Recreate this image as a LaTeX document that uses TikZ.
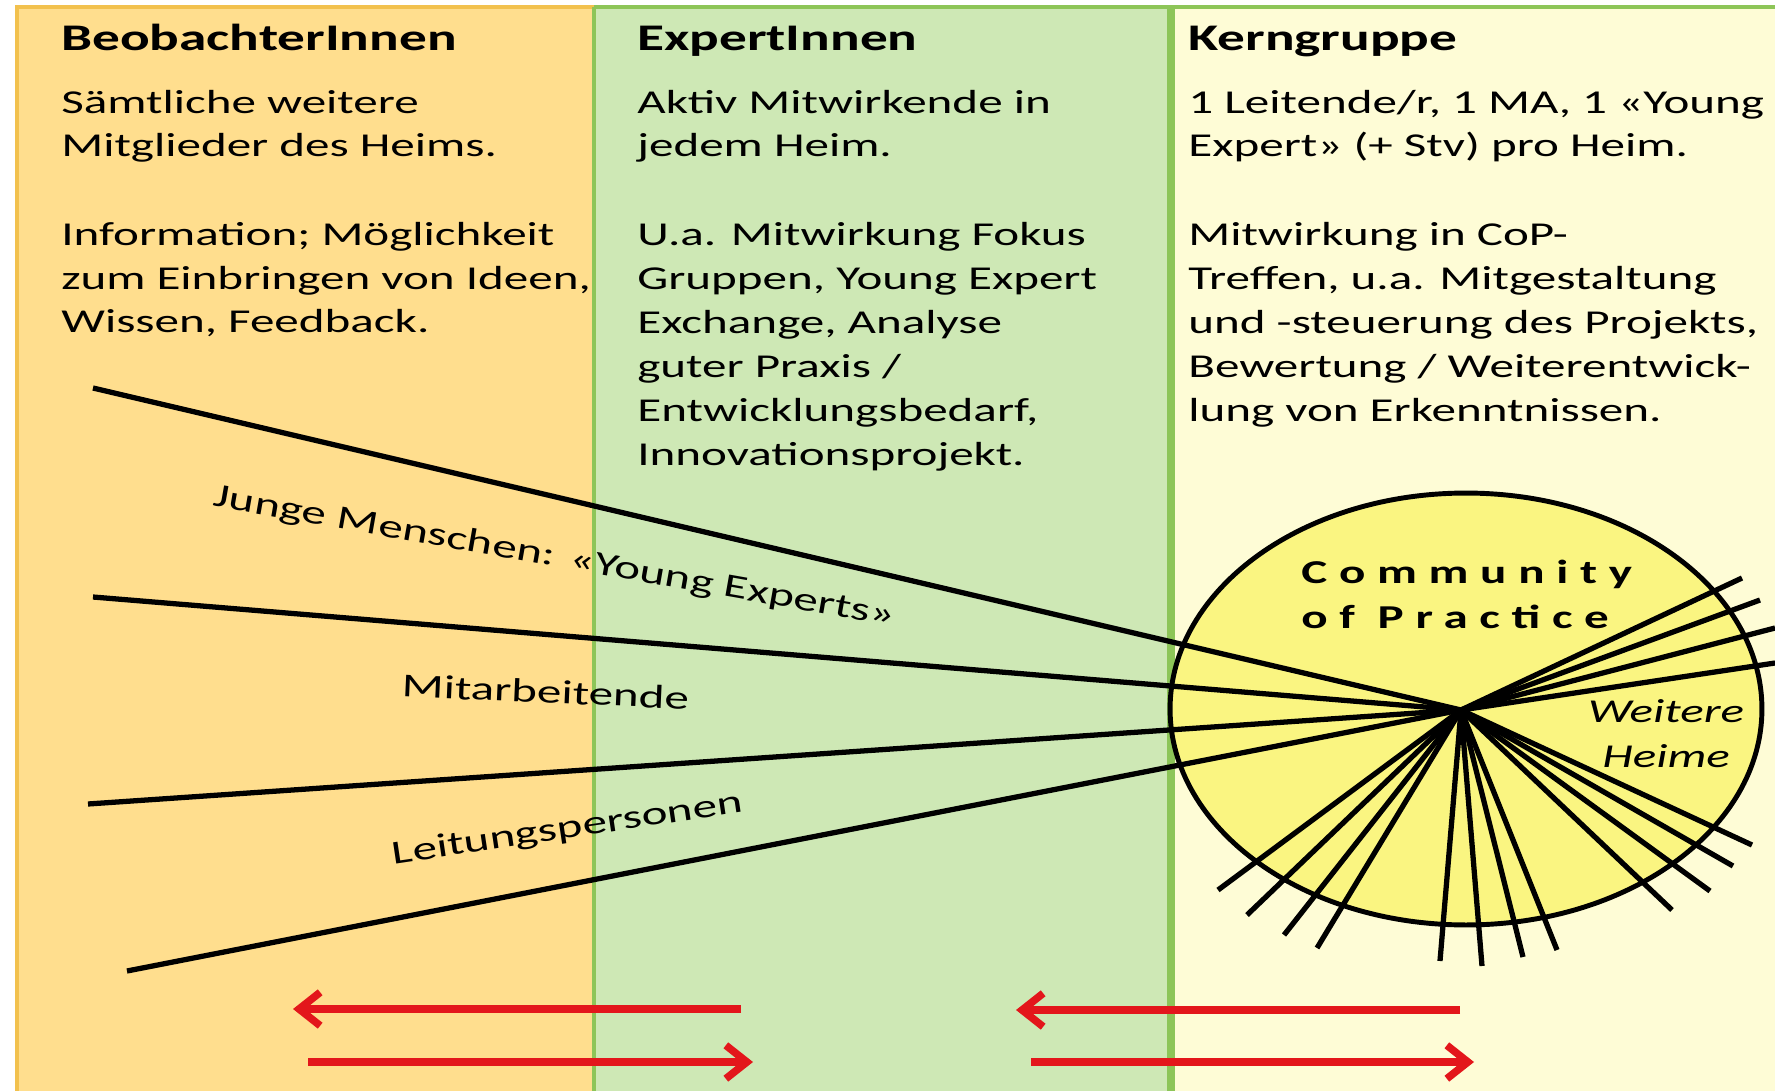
\documentclass[tikz,border=0pt]{standalone}
\usepackage{fontspec}
\setmainfont{Carlito}[FakeStretch=1.47]
\usetikzlibrary{arrows.meta,shapes.geometric}

\definecolor{obsfill}{HTML}{FFDE8E}
\definecolor{obsline}{HTML}{F2C14E}
\definecolor{expfill}{HTML}{CEE8B5}
\definecolor{expline}{HTML}{8DC558}
\definecolor{corefill}{HTML}{FEFCD6}
\definecolor{copfill}{HTML}{FAF581}
\definecolor{flowred}{HTML}{E3161B}

\begin{document}
\begin{tikzpicture}[x=0.02cm, y=-0.02cm,
    heading/.style={anchor=base west, inner sep=0pt,
        font=\bfseries\fontsize{21.4}{25}\selectfont},
    body/.style={anchor=base west, inner sep=0pt, align=left,
        font=\fontsize{19}{25}\selectfont},
    group/.style={anchor=base, inner sep=0pt, font=\fontsize{19}{22}\selectfont},
    ray/.style={line width=3pt, black},
    flow/.style={line width=4.3pt, flowred, -{Straight Barb[length=12pt, width=19pt]}}
]
    \useasboundingbox (0,0) rectangle (1775,1091);
    \fill[white] (0,0) rectangle (1775,1091);

    % the three bands
    \fill[obsfill] (17,7) rectangle (594,1091);
    \fill[expfill] (594,7) rectangle (1171,1091);
    \fill[corefill] (1171,7) rectangle (1775,1091);
    \draw[obsline, line width=2.8pt] (17,1091) -- (17,7) -- (594,7);
    \draw[expline, line width=2.8pt] (594,7) -- (1775,7);
    \draw[expline, line width=2pt] (594,7) -- (594,1091);
    \draw[expline, line width=4.5pt] (1171,7) -- (1171,1091);

    % column texts (multi-line nodes sit on their last line)
    \node[heading] (obshead) at (61,51) {BeobachterInnen};
    \node[body] (obsinfo) at (61,157) {Sämtliche weitere\\Mitglieder des Heims.};
    \node[body] (obsrole) at (61,333) {Information; Möglichkeit\\zum Einbringen von Ideen,\\Wissen, Feedback.};

    \node[heading] (exphead) at (637,51) {ExpertInnen};
    \node[body] (expinfo) at (637,157) {Aktiv Mitwirkende in\\jedem Heim.};
    \node[body] (exprole) at (637,465) {U.a. Mitwirkung Fokus\\Gruppen, Young Expert\\Exchange, Analyse\\guter Praxis /\\Entwicklungsbedarf,\\Innovationsprojekt.};

    \node[heading] (corehead) at (1188,51) {Kerngruppe};
    \node[body] (coreinfo) at (1188,157) {1 Leitende/r, 1 MA, 1 «Young\\Expert» (+ Stv) pro Heim.};
    \node[body] (corerole) at (1188,421) {Mitwirkung in CoP-\\Treffen, u.a. Mitgestaltung\\und -steuerung des Projekts,\\Bewertung / Weiterentwick-\\lung von Erkenntnissen.};

    % community of practice
    \node[ellipse, draw, line width=2.8pt, fill=copfill, inner sep=0pt,
        minimum width=11.84cm, minimum height=8.64cm] (cop) at (1466,709) {};
    \coordinate (hub) at (1461,710);

    \coordinate (w1) at (93,388);
    \coordinate (w2) at (93,597);
    \coordinate (w3) at (88,804);
    \coordinate (w4) at (127,971);
    \draw[ray] (w1) -- (hub);
    \draw[ray] (w2) -- (hub);
    \draw[ray] (w3) -- (hub);
    \draw[ray] (w4) -- (hub);

    \coordinate (e1) at (1742,578);
    \coordinate (e2) at (1760,600);
    \coordinate (e3) at (1775,628);
    \coordinate (e4) at (1775,663);
    \draw[ray] (hub) -- (e1);
    \draw[ray] (hub) -- (e2);
    \draw[ray] (hub) -- (e3);
    \draw[ray] (hub) -- (e4);

    \coordinate (s1) at (1218,890);
    \coordinate (s2) at (1247,915);
    \coordinate (s3) at (1284,935);
    \coordinate (s4) at (1317,948);
    \coordinate (s5) at (1440,961);
    \coordinate (s6) at (1482,966);
    \coordinate (s7) at (1523,957);
    \coordinate (s8) at (1557,950);
    \coordinate (s9) at (1672,910);
    \coordinate (s10) at (1710,891);
    \coordinate (s11) at (1733,866);
    \coordinate (s12) at (1752,845);
    \draw[ray] (hub) -- (s1);
    \draw[ray] (hub) -- (s2);
    \draw[ray] (hub) -- (s3);
    \draw[ray] (hub) -- (s4);
    \draw[ray] (hub) -- (s5);
    \draw[ray] (hub) -- (s6);
    \draw[ray] (hub) -- (s7);
    \draw[ray] (hub) -- (s8);
    \draw[ray] (hub) -- (s9);
    \draw[ray] (hub) -- (s10);
    \draw[ray] (hub) -- (s11);
    \draw[ray] (hub) -- (s12);

    \node[anchor=base west, inner sep=0pt, align=left,
        font=\bfseries\fontsize{19}{25.6}\selectfont\addfontfeature{LetterSpace=35}]
        (coptitle) at (1301,628) {Community\\of Practice};
    \node[anchor=base, inner sep=0pt, align=center,
        font=\itshape\fontsize{19}{25.6}\selectfont] (others) at (1666,767) {Weitere\\Heime};

    % groups between the rays
    \node[group, rotate=-10] (youth) at (553,566) {Junge Menschen: «Young Experts»};
    \node[group, rotate=-2.5] (staff) at (545,703) {Mitarbeitende};
    \node[group, rotate=8.5] (leads) at (569,838) {Leitungspersonen};

    % exchange between the groups
    \coordinate (f1a) at (741,1009);
    \coordinate (f1b) at (293,1009);
    \coordinate (f2a) at (308,1062);
    \coordinate (f2b) at (753,1062);
    \coordinate (f3a) at (1460,1010);
    \coordinate (f3b) at (1016,1010);
    \coordinate (f4a) at (1031,1062);
    \coordinate (f4b) at (1474,1062);
    \draw[flow] (f1a) -- (f1b);
    \draw[flow] (f2a) -- (f2b);
    \draw[flow] (f3a) -- (f3b);
    \draw[flow] (f4a) -- (f4b);
\end{tikzpicture}
\end{document}
